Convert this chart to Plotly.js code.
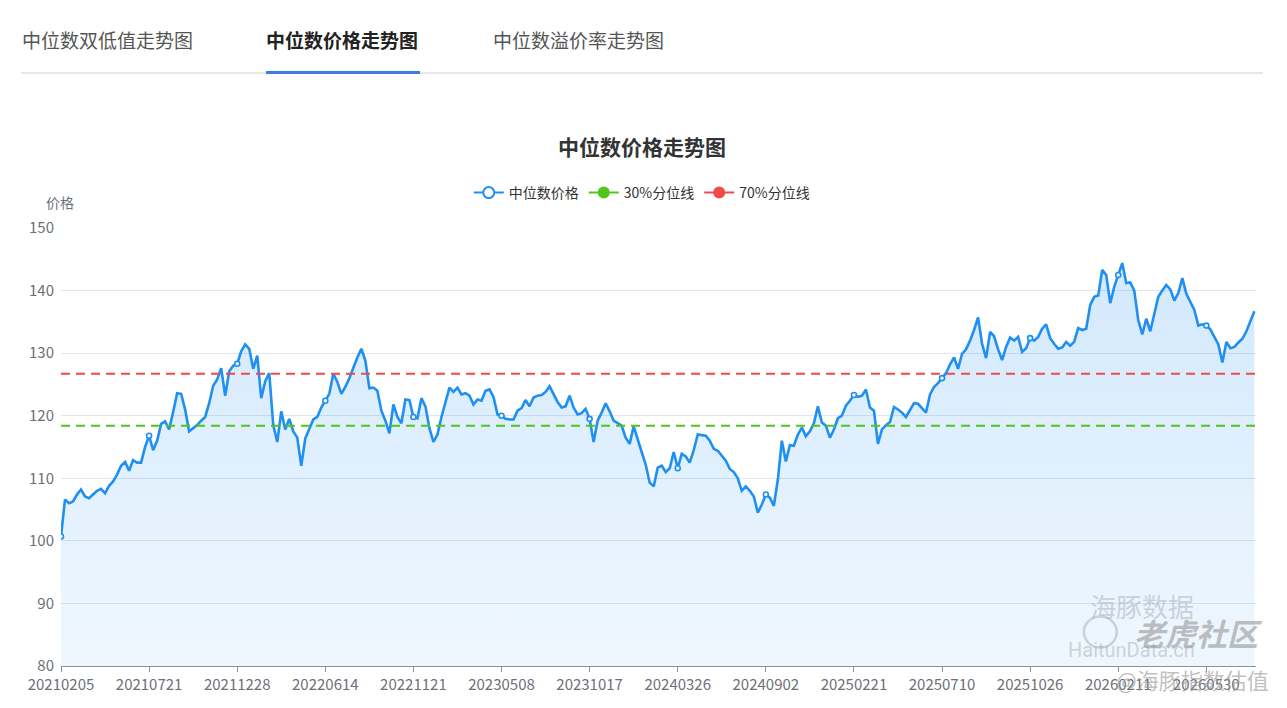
<!DOCTYPE html>
<html>
<head>
<meta charset="utf-8">
<script src="https://cdn.plot.ly/plotly-3.0.1.min.js"></script>
<style>
  html, body { margin: 0; padding: 0; background: #fff; }
  body { width: 1287px; height: 708px; position: relative; overflow: hidden; font-family: "Noto Sans CJK SC", "Noto Sans", sans-serif; }
  #chart { position: absolute; left: 0; top: 0; width: 1287px; height: 708px; }
  .tabs { position: absolute; left: 0; top: 0; width: 1287px; height: 80px; z-index: 2; }
  .tab { position: absolute; top: 26px; font-size: 19px; line-height: 28px; color: #555; white-space: nowrap; }
  .tab.active { color: #222; font-weight: bold; }
  .baseline { position: absolute; left: 21px; top: 72px; width: 1242px; height: 2px; background: #e8e8e8; }
  .underline { position: absolute; left: 266px; top: 71px; width: 154px; height: 3px; background: #3b7de0; }
</style>
</head>
<body>
<div class="tabs">
  <div class="tab" style="left:22px;">中位数双低值走势图</div>
  <div class="tab active" style="left:266px;">中位数价格走势图</div>
  <div class="tab" style="left:493px;">中位数溢价率走势图</div>
  <div class="baseline"></div>
  <div class="underline"></div>
</div>
<div id="chart"></div>
<script>
// ---- data ----
const tickLabels = ['20210205','20210721','20211228','20220614','20221121','20230508','20231017',
  '20240326','20240902','20250221','20250710','20251026','20260211','20260530'];
const medianPrice = [
  100.7,106.6,106.0,106.3,107.4,108.2,107.1,106.8,107.4,108.0,
  108.3,107.6,108.8,109.5,110.6,112.0,112.6,111.2,112.9,112.5,
  112.5,115.0,116.8,114.5,116.0,118.7,119.1,117.8,120.6,123.6,
  123.5,121.0,117.5,118.0,118.5,119.2,119.8,122.0,124.8,125.8,
  127.6,123.2,127.1,128.0,128.3,130.3,131.4,130.7,127.5,129.6,
  122.8,125.5,126.8,118.5,115.8,120.7,117.8,119.5,117.5,116.5,
  112.0,116.4,118.0,119.4,119.8,121.3,122.4,123.5,126.7,125.4,
  123.5,124.6,126.0,127.8,129.3,130.7,128.8,124.4,124.5,124.0,
  120.8,119.2,117.2,121.8,119.8,118.8,122.6,122.5,119.8,119.6,
  122.8,121.5,118.0,115.8,117.0,119.8,122.0,124.5,123.8,124.5,
  123.4,123.6,123.2,121.8,122.6,122.4,124.0,124.2,123.0,120.2,
  120.0,119.5,119.4,119.4,120.8,121.2,122.5,121.5,122.9,123.2,
  123.3,123.8,124.7,123.5,122.2,121.3,121.5,123.2,121.3,120.2,
  120.4,121.1,119.5,115.8,119.2,120.5,122.0,120.7,119.2,118.8,
  118.4,116.5,115.5,118.3,116.4,114.2,112.2,109.3,108.7,111.7,
  112.0,111.0,111.6,114.2,111.6,113.9,113.5,112.5,114.5,117.0,
  116.9,116.8,116.0,114.7,114.4,113.6,112.8,111.5,111.0,110.0,
  108.0,108.7,108.0,107.1,104.5,105.8,107.4,106.9,105.6,109.8,
  116.0,112.7,115.3,115.2,117.0,118.1,116.7,117.5,118.8,121.5,
  118.9,118.4,116.5,117.8,119.6,120.0,121.6,122.4,123.3,123.0,
  123.2,124.2,121.3,120.8,115.5,117.8,118.5,119.0,121.4,121.0,
  120.5,119.8,121.0,122.0,121.9,121.2,120.5,123.4,124.6,125.2,
  126.0,126.8,128.2,129.3,127.5,129.9,130.6,132.0,133.7,135.7,
  131.5,129.2,133.4,132.7,130.6,128.9,131.0,132.5,132.0,132.6,
  130.2,130.8,132.4,132.0,132.6,133.9,134.6,132.4,131.5,130.7,
  130.9,131.8,131.2,131.8,134.0,133.7,133.9,137.7,139.0,139.2,
  143.3,142.5,138.0,140.6,142.5,144.4,141.2,141.3,140.0,135.3,
  133.0,135.5,133.5,136.4,139.0,140.0,140.9,140.2,138.4,139.6,
  142.0,139.5,138.3,136.9,134.4,134.6,134.4,133.8,132.6,131.4,
  128.5,131.8,130.8,131.0,131.7,132.3,133.5,135.2,136.7
];
const pct30 = 118.4;
const pct70 = 126.7;
const seriesNames = ['中位数价格', '30%分位线', '70%分位线'];

// ---- presentation ----
const STEP = 22;               // categories between labelled ticks
const BLUE = '#1f8ff2', GREEN = '#52c41a', RED = '#ee4b4b';
const FONT = '"Noto Sans CJK SC", "Noto Sans", sans-serif';
const idx = medianPrice.map((_, i) => i);
const tickIdx = tickLabels.map((_, k) => k * STEP);
const lastIdx = medianPrice.length - 1;
const markIdx = tickIdx.filter(i => i <= lastIdx);

const traces = [
  { x: idx, y: medianPrice, type: 'scatter', mode: 'lines', showlegend: false,
    line: { color: BLUE, width: 2.6 },
    fill: 'tozeroy',
    fillgradient: { type: 'vertical', start: 80, stop: 145,
      colorscale: [[0, 'rgba(31,143,242,0.07)'], [1, 'rgba(31,143,242,0.2)']] },
    hoverinfo: 'skip' },
  { x: [0, lastIdx + 0.4], y: [pct30, pct30], type: 'scatter', mode: 'lines', showlegend: false,
    line: { color: GREEN, width: 2, dash: '9px,6px' }, hoverinfo: 'skip' },
  { x: [0, lastIdx + 0.4], y: [pct70, pct70], type: 'scatter', mode: 'lines', showlegend: false,
    line: { color: RED, width: 2, dash: '9px,6px' }, hoverinfo: 'skip' },
  { x: markIdx, y: markIdx.map(i => medianPrice[i]),
    type: 'scatter', mode: 'markers', showlegend: false,
    marker: { size: 5, color: '#ffffff', line: { color: BLUE, width: 1.6 } }, hoverinfo: 'skip' },
  // legend entries
  { x: [null], y: [null], type: 'scatter', mode: 'lines+markers', name: seriesNames[0],
    line: { color: BLUE, width: 2 }, marker: { size: 11, color: '#ffffff', line: { color: BLUE, width: 2 } } },
  { x: [null], y: [null], type: 'scatter', mode: 'lines+markers', name: seriesNames[1],
    line: { color: GREEN, width: 2 }, marker: { size: 12, color: GREEN } },
  { x: [null], y: [null], type: 'scatter', mode: 'lines+markers', name: seriesNames[2],
    line: { color: RED, width: 2 }, marker: { size: 12, color: RED } }
];

const wmColor = 'rgba(170,178,188,0.55)';
const layout = {
  width: 1287, height: 708,
  margin: { l: 61, r: 31, t: 228, b: 42 },
  paper_bgcolor: 'rgba(0,0,0,0)', plot_bgcolor: '#ffffff',
  font: { family: FONT, color: '#6e7079', size: 15 },
  title: { text: '<b>中位数价格走势图</b>', x: 0.4988, xref: 'container', xanchor: 'center',
    y: 1 - 148 / 708, yref: 'container', yanchor: 'middle',
    font: { family: FONT, size: 21, color: '#333333' } },
  showlegend: true,
  legend: { orientation: 'h', x: 0.486, xanchor: 'center', y: 1.08, yanchor: 'middle',
    font: { family: FONT, size: 14, color: '#333333' }, itemwidth: 30, bgcolor: 'rgba(0,0,0,0)' },
  xaxis: { range: [0, 298.4], tickmode: 'array', tickvals: tickIdx, ticktext: tickLabels,
    showgrid: false, zeroline: false, showline: true, linecolor: '#8a8f99', linewidth: 1,
    ticks: 'outside', ticklen: 5, tickcolor: '#8a8f99', tickfont: { size: 15, color: '#6e7079' },
    fixedrange: true },
  yaxis: { range: [80, 150], dtick: 10, tick0: 80, showgrid: true, gridcolor: '#e0e6f1', gridwidth: 1,
    zeroline: false, showline: false, ticks: '', tickfont: { size: 15, color: '#6e7079' },
    ticklabelstandoff: 6, fixedrange: true },
  shapes: [
    { type: 'circle', xref: 'paper', yref: 'paper', x0: 0.856, x1: 0.8835, y0: 0.042, y1: 0.113,
      line: { color: wmColor, width: 2.5 } }
  ],
  annotations: [
    { text: '价格', xref: 'paper', yref: 'paper', x: -0.0005, y: (666 - 202) / 438,
      xanchor: 'center', yanchor: 'middle', showarrow: false, font: { size: 14, color: '#6e7079' } },
    { text: '海豚数据', xref: 'paper', yref: 'paper', x: 0.9046, y: 0.139, xanchor: 'center', yanchor: 'middle',
      showarrow: false, font: { size: 26, color: wmColor } },
    { text: 'HaitunData.cn', xref: 'paper', yref: 'paper', x: 0.896, y: 0.0365, xanchor: 'center', yanchor: 'middle',
      showarrow: false, font: { family: 'Roboto, sans-serif', size: 20, color: wmColor } },
    { text: '<b><i>老虎社区</i></b>', xref: 'paper', yref: 'paper', x: 0.9515, y: 0.0776, xanchor: 'center', yanchor: 'middle',
      showarrow: false, font: { size: 31, color: 'rgba(150,150,150,0.6)' } },
    { text: '@海豚指数估值', xref: 'paper', yref: 'paper', x: 0.947, y: -0.0297, xanchor: 'center', yanchor: 'middle',
      showarrow: false, font: { size: 22, color: 'rgba(150,150,150,0.6)' } }
  ]
};

Plotly.newPlot('chart', traces, layout, { displayModeBar: false, staticPlot: true });
</script>
</body>
</html>
